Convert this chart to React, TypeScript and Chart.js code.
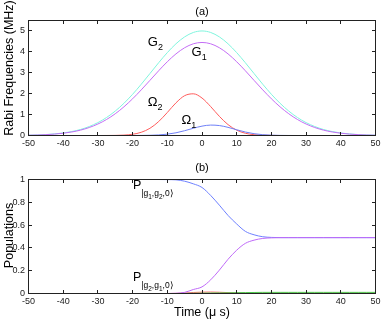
import { useEffect, useRef } from 'react';
import { Chart, registerables } from 'chart.js';

Chart.register(...registerables);

// ---------- data ----------
const time = [-50, -47.5, -45, -42.5, -40, -37.5, -35, -32.5, -30, -27.5, -25, -22.5, -20, -17.5, -15, -12.5, -10, -7.5, -5, -2.5, 0, 2.5, 5, 7.5, 10, 12.5, 15, 17.5, 20, 22.5, 25, 27.5, 30, 32.5, 35, 37.5, 40, 42.5, 45, 47.5, 50];

// (a) Rabi frequencies (MHz)
const G2 = [0.015, 0.026, 0.045, 0.075, 0.121, 0.19, 0.289, 0.429, 0.617, 0.861, 1.169, 1.54, 1.972, 2.453, 2.963, 3.478, 3.963, 4.387, 4.717, 4.928, 5.0, 4.928, 4.717, 4.387, 3.963, 3.478, 2.963, 2.453, 1.972, 1.54, 1.169, 0.861, 0.617, 0.429, 0.289, 0.19, 0.121, 0.075, 0.045, 0.026, 0.015];
const G1 = [0.013, 0.023, 0.04, 0.067, 0.108, 0.169, 0.257, 0.382, 0.549, 0.766, 1.04, 1.371, 1.755, 2.183, 2.637, 3.095, 3.527, 3.904, 4.198, 4.386, 4.45, 4.386, 4.198, 3.904, 3.527, 3.095, 2.637, 2.183, 1.755, 1.371, 1.04, 0.766, 0.549, 0.382, 0.257, 0.169, 0.108, 0.067, 0.04, 0.023, 0.013];
const Omega2 = [0, 0, 0, 0, 0, 0, 0, 0, 0, 0.001, 0.005, 0.019, 0.059, 0.154, 0.345, 0.665, 1.1, 1.562, 1.905, 1.994, 1.792, 1.383, 0.917, 0.521, 0.255, 0.107, 0.038, 0.012, 0.003, 0, 0, 0, 0, 0, 0, 0, 0, 0, 0, 0, 0];
const Omega1 = [0, 0, 0, 0, 0, 0, 0, 0, 0, 0, 0, 0, 0.001, 0.003, 0.01, 0.027, 0.064, 0.13, 0.229, 0.346, 0.448, 0.498, 0.476, 0.39, 0.275, 0.166, 0.086, 0.039, 0.015, 0.005, 0.001, 0, 0, 0, 0, 0, 0, 0, 0, 0, 0];

// (b) populations
const P_g1g2 = [1, 1, 1, 1, 1, 1, 1, 1, 1, 1, 1, 1, 1, 1, 1, 1, 0.999, 0.997, 0.985, 0.962, 0.93, 0.86, 0.775, 0.685, 0.61, 0.545, 0.515, 0.498, 0.492, 0.49, 0.49, 0.49, 0.49, 0.49, 0.49, 0.49, 0.49, 0.49, 0.49, 0.49, 0.49];
const P_g2g1 = [0, 0, 0, 0, 0, 0, 0, 0, 0, 0, 0, 0, 0, 0, 0, 0, 0, 0.002, 0.01, 0.035, 0.058, 0.12, 0.205, 0.3, 0.38, 0.44, 0.468, 0.483, 0.488, 0.49, 0.49, 0.49, 0.49, 0.49, 0.49, 0.49, 0.49, 0.49, 0.49, 0.49, 0.49];
const P_red = [0, 0, 0, 0, 0, 0, 0, 0, 0, 0, 0, 0, 0, 0, 0, 0, 0, 0.001, 0.004, 0.009, 0.012, 0.013, 0.011, 0.008, 0.005, 0.004, 0.003, 0.003, 0.003, 0.003, 0.003, 0.003, 0.003, 0.003, 0.003, 0.003, 0.003, 0.003, 0.003, 0.003, 0.003];
const P_green = [0, 0, 0, 0, 0, 0, 0, 0, 0, 0, 0, 0, 0, 0, 0, 0, 0, 0, 0.001, 0.002, 0.003, 0.004, 0.005, 0.006, 0.007, 0.008, 0.009, 0.01, 0.01, 0.01, 0.01, 0.01, 0.01, 0.01, 0.01, 0.01, 0.01, 0.01, 0.01, 0.01, 0.01];

const xTicks = [-50, -40, -30, -20, -10, 0, 10, 20, 30, 40, 50];
const yTicksA = [0, 1, 2, 3, 4, 5];
const yTicksB = [0, 0.2, 0.4, 0.6, 0.8, 1];

const FONT = '"Liberation Sans", Arial, Helvetica, sans-serif';

type Seg = { t: string; lvl: number };
type Ann = { x: number; y: number; segs: Seg[]; sizes: number[]; dys: number[] };

const annA: Ann[] = [
  { x: -15.6, y: 4.26, segs: [{ t: 'G', lvl: 0 }, { t: '2', lvl: 1 }], sizes: [13, 9], dys: [0, 4] },
  { x: -3.0, y: 3.78, segs: [{ t: 'G', lvl: 0 }, { t: '1', lvl: 1 }], sizes: [13, 9], dys: [0, 4] },
  { x: -15.6, y: 1.41, segs: [{ t: 'Ω', lvl: 0 }, { t: '2', lvl: 1 }], sizes: [13, 9], dys: [0, 4] },
  { x: -5.9, y: 0.55, segs: [{ t: 'Ω', lvl: 0 }, { t: '1', lvl: 1 }], sizes: [13, 9], dys: [0, 4] },
];
const annB: Ann[] = [
  {
    x: -19.9, y: 0.915,
    segs: [{ t: 'P', lvl: 0 }, { t: '|g', lvl: 1 }, { t: '1', lvl: 2 }, { t: ',g', lvl: 1 }, { t: '2', lvl: 2 }, { t: ',0⟩', lvl: 1 }],
    sizes: [12.5, 8.5, 6.5], dys: [0, 7, 10],
  },
  {
    x: -19.9, y: 0.108,
    segs: [{ t: 'P', lvl: 0 }, { t: '|g', lvl: 1 }, { t: '2', lvl: 2 }, { t: ',g', lvl: 1 }, { t: '1', lvl: 2 }, { t: ',0⟩', lvl: 1 }],
    sizes: [12.5, 8.5, 6.5], dys: [0, 7, 10],
  },
];

type Decor = {
  title: string; titleY: number;
  yLabel: string; yLabelX: number; yLabelY: number;
  xLabel?: string; xLabelY?: number;
  yTicks: number[]; anns: Ann[];
};

function decorPlugin(cfg: Decor) {
  return {
    id: 'decor',
    afterDraw(chart: any) {
      const { ctx, chartArea: a, scales } = chart;
      const xs = scales.x, ys = scales.y;
      ctx.save();
      ctx.strokeStyle = '#222';
      ctx.lineWidth = 1;
      const tl = 3.5;
      ctx.beginPath();
      for (const v of xTicks) {
        const px = Math.round(xs.getPixelForValue(v) - 0.5) + 0.5;
        ctx.moveTo(px, a.bottom); ctx.lineTo(px, a.bottom - tl);
        ctx.moveTo(px, a.top); ctx.lineTo(px, a.top + tl);
      }
      for (const v of cfg.yTicks) {
        const py = Math.round(ys.getPixelForValue(v) - 0.5) + 0.5;
        ctx.moveTo(a.left, py); ctx.lineTo(a.left + tl, py);
        ctx.moveTo(a.right, py); ctx.lineTo(a.right - tl, py);
      }
      ctx.stroke();
      ctx.strokeRect(a.left, a.top, a.right - a.left, a.bottom - a.top);

      ctx.fillStyle = '#000';
      ctx.textAlign = 'center';
      ctx.textBaseline = 'middle';
      const cx = (a.left + a.right) / 2;
      ctx.font = `11px ${FONT}`;
      ctx.fillText(cfg.title, cx, cfg.titleY);
      if (cfg.xLabel) {
        ctx.font = `12.5px ${FONT}`;
        ctx.fillText(cfg.xLabel, cx, cfg.xLabelY);
      }
      ctx.save();
      ctx.translate(cfg.yLabelX, cfg.yLabelY);
      ctx.rotate(-Math.PI / 2);
      ctx.font = `12.5px ${FONT}`;
      ctx.fillText(cfg.yLabel, 0, 0);
      ctx.restore();

      ctx.textAlign = 'left';
      ctx.textBaseline = 'alphabetic';
      for (const an of cfg.anns) {
        let px = xs.getPixelForValue(an.x);
        const py = ys.getPixelForValue(an.y);
        for (const s of an.segs) {
          ctx.font = `${an.sizes[s.lvl]}px ${FONT}`;
          ctx.fillText(s.t, px, py + an.dys[s.lvl]);
          px += ctx.measureText(s.t).width;
        }
      }
      ctx.restore();
    },
  };
}

function line(data: number[], color: string) {
  return {
    data: time.map((t, i) => ({ x: t, y: data[i] })),
    borderColor: color,
    backgroundColor: color,
    borderWidth: 1,
    pointRadius: 0,
    fill: false,
    cubicInterpolationMode: 'monotone' as const,
  };
}

function options(yMax: number, yTicks: number[], padTop: number, xHeight: number) {
  const tickFont = { family: FONT, size: 9 };
  return {
    responsive: false,
    animation: false as const,
    devicePixelRatio: 1,
    layout: { padding: { top: padTop, right: 6.5, left: 0, bottom: 0 } },
    plugins: { legend: { display: false }, tooltip: { enabled: false }, title: { display: false } },
    scales: {
      x: {
        type: 'linear' as const,
        min: -50, max: 50,
        grid: { display: false, drawTicks: false },
        border: { display: false },
        ticks: { font: tickFont, color: '#222', padding: 3, maxRotation: 0, autoSkip: false, callback: (v: number) => String(v) },
        afterBuildTicks: (s: any) => { s.ticks = xTicks.map((v) => ({ value: v })); },
        afterFit: (s: any) => { s.height = xHeight; s.paddingLeft = 0; s.paddingRight = 0; },
      },
      y: {
        type: 'linear' as const,
        min: 0, max: yMax,
        grid: { display: false, drawTicks: false },
        border: { display: false },
        ticks: { font: tickFont, color: '#222', padding: 3.5, autoSkip: false, callback: (v: number) => String(v) },
        afterBuildTicks: (s: any) => { s.ticks = yTicks.map((v) => ({ value: v })); },
        afterFit: (s: any) => { s.width = 28.5; s.paddingTop = 0; s.paddingBottom = 0; },
      },
    },
  };
}

export default function App() {
  const topRef = useRef<HTMLCanvasElement>(null);
  const botRef = useRef<HTMLCanvasElement>(null);

  useEffect(() => {
    document.body.style.margin = '0';
    const c1 = new Chart(topRef.current as HTMLCanvasElement, {
      type: 'line',
      data: {
        datasets: [
          line(Omega1, '#6f80f7'),
          line(Omega2, '#ff5c5c'),
          line(G1, '#c46ef5'),
          line(G2, '#80f5de'),
        ],
      },
      options: options(5.5, yTicksA, 20.5, 14.5) as any,
      plugins: [decorPlugin({
        title: '(a)', titleY: 12.3,
        yLabel: 'Rabi Frequencies (MHz)', yLabelX: 10, yLabelY: 68,
        yTicks: yTicksA, anns: annA,
      })],
    });
    const c2 = new Chart(botRef.current as HTMLCanvasElement, {
      type: 'line',
      data: {
        datasets: [
          line(P_g2g1, '#bf6af8'),
          line(P_g1g2, '#6e80ff'),
          line(P_green, '#4cc94c'),
          line(P_red, '#ff6b6b'),
        ],
      },
      options: options(1, yTicksB, 29.5, 26.5) as any,
      plugins: [decorPlugin({
        title: '(b)', titleY: 18,
        yLabel: 'Populations', yLabelX: 9.5, yLabelY: 85.5,
        xLabel: 'Time (μ s)', xLabelY: 163,
        yTicks: yTicksB, anns: annB,
      })],
    });
    return () => { c1.destroy(); c2.destroy(); };
  }, []);

  return (
    <div style={{ position: 'absolute', left: 0, top: 0, width: 382, height: 320, background: '#fff' }}>
      <canvas ref={topRef} width={382} height={150} style={{ position: 'absolute', left: 0, top: 0 }} />
      <canvas ref={botRef} width={382} height={170} style={{ position: 'absolute', left: 0, top: 150 }} />
    </div>
  );
}
